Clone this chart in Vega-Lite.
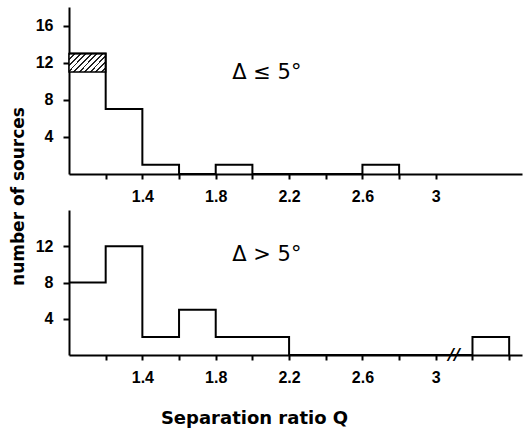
{
  "$schema": "https://vega.github.io/schema/vega-lite/v6.json",
  "background": "white",
  "padding": {"left": 9, "top": 7, "right": 2, "bottom": 2},
  "bounds": "flush",
  "spacing": 36,
  "datasets": {
    "top": [
      {"q": 1.0, "n": 13},
      {"q": 1.2, "n": 7},
      {"q": 1.4, "n": 1},
      {"q": 1.6, "n": 0},
      {"q": 1.8, "n": 1},
      {"q": 2.0, "n": 0},
      {"q": 2.6, "n": 1},
      {"q": 2.8, "n": 0}
    ],
    "hatch": [
      {"q0": 1.0, "q1": 1.2, "lo": 11, "hi": 13}
    ],
    "bottom": [
      {"q": 1.0, "n": 8},
      {"q": 1.2, "n": 12},
      {"q": 1.4, "n": 2},
      {"q": 1.6, "n": 5},
      {"q": 1.8, "n": 2},
      {"q": 2.2, "n": 0},
      {"q": 3.2, "n": 2},
      {"q": 3.4, "n": 0}
    ]
  },
  "vconcat": [
    {
      "width": 453,
      "height": 167,
      "layer": [
        {
          "data": {"name": "hatch"},
          "mark": {
            "type": "rect",
            "stroke": "black",
            "strokeWidth": 1.5,
            "fill": {
              "gradient": "linear",
              "x1": 0, "y1": 0, "x2": 1.2, "y2": 0.6,
              "stops": [
                {"offset": 0, "color": "#222"}, {"offset": 0.035, "color": "#222"}, {"offset": 0.035, "color": "white"}, {"offset": 0.1, "color": "white"},
                {"offset": 0.1, "color": "#222"}, {"offset": 0.135, "color": "#222"}, {"offset": 0.135, "color": "white"}, {"offset": 0.2, "color": "white"},
                {"offset": 0.2, "color": "#222"}, {"offset": 0.235, "color": "#222"}, {"offset": 0.235, "color": "white"}, {"offset": 0.3, "color": "white"},
                {"offset": 0.3, "color": "#222"}, {"offset": 0.335, "color": "#222"}, {"offset": 0.335, "color": "white"}, {"offset": 0.4, "color": "white"},
                {"offset": 0.4, "color": "#222"}, {"offset": 0.435, "color": "#222"}, {"offset": 0.435, "color": "white"}, {"offset": 0.5, "color": "white"},
                {"offset": 0.5, "color": "#222"}, {"offset": 0.535, "color": "#222"}, {"offset": 0.535, "color": "white"}, {"offset": 0.6, "color": "white"},
                {"offset": 0.6, "color": "#222"}, {"offset": 0.635, "color": "#222"}, {"offset": 0.635, "color": "white"}, {"offset": 0.7, "color": "white"},
                {"offset": 0.7, "color": "#222"}, {"offset": 0.735, "color": "#222"}, {"offset": 0.735, "color": "white"}, {"offset": 0.8, "color": "white"},
                {"offset": 0.8, "color": "#222"}, {"offset": 0.835, "color": "#222"}, {"offset": 0.835, "color": "white"}, {"offset": 0.9, "color": "white"},
                {"offset": 0.9, "color": "#222"}, {"offset": 0.935, "color": "#222"}, {"offset": 0.935, "color": "white"}, {"offset": 1, "color": "white"}
              ]
            }
          },
          "encoding": {
            "x": {
              "field": "q0", "type": "quantitative",
              "scale": {"domain": [1, 3.47], "nice": false, "zero": false},
              "axis": {
                "values": [1.2, 1.4, 1.6, 1.8, 2.0, 2.2, 2.4, 2.6, 2.8, 3.0],
                "labelExpr": "(round(datum.value*10)%4==2 && datum.value<3.05) ? (round(datum.value*10)==30 ? '3' : format(datum.value,'.1f')) : ''",
                "title": null
              }
            },
            "x2": {"field": "q1"},
            "y": {
              "field": "lo", "type": "quantitative",
              "scale": {"domain": [0, 18], "nice": false},
              "axis": {
                "values": [4, 8, 12, 16],
                "title": "number of sources",
                "titleX": -46,
                "titleY": 189,
                "titleAngle": -90,
                "titleAlign": "center",
                "titleBaseline": "alphabetic",
                "titleFontSize": 17
              }
            },
            "y2": {"field": "hi"}
          }
        },
        {
          "data": {"name": "top"},
          "mark": {"type": "line", "interpolate": "step-after", "color": "black", "strokeWidth": 2},
          "encoding": {
            "x": {"field": "q", "type": "quantitative"},
            "y": {"field": "n", "type": "quantitative"}
          }
        },
        {
          "data": {"values": [{}]},
          "mark": {"type": "text", "text": "Δ  ≤ 5°", "align": "left", "baseline": "middle", "font": "DejaVu Sans", "fontSize": 21, "color": "black"},
          "encoding": {
            "x": {"datum": 1.89, "type": "quantitative"},
            "y": {"datum": 10.9, "type": "quantitative"}
          }
        }
      ]
    },
    {
      "width": 453,
      "height": 145,
      "layer": [
        {
          "data": {"name": "bottom"},
          "mark": {"type": "line", "interpolate": "step-after", "color": "black", "strokeWidth": 2},
          "encoding": {
            "x": {
              "field": "q", "type": "quantitative",
              "scale": {"domain": [1, 3.47], "nice": false, "zero": false},
              "axis": {
                "values": [1.2, 1.4, 1.6, 1.8, 2.0, 2.2, 2.4, 2.6, 2.8, 3.0, 3.2, 3.4],
                "labelExpr": "(round(datum.value*10)%4==2 && datum.value<3.05) ? (round(datum.value*10)==30 ? '3' : format(datum.value,'.1f')) : ''",
                "title": "Separation ratio Q",
                "titleX": 185,
                "titleY": 68,
                "titleAlign": "center",
                "titleBaseline": "alphabetic",
                "titleFontSize": 18
              }
            },
            "y": {
              "field": "n", "type": "quantitative",
              "scale": {"domain": [0, 16], "nice": false},
              "axis": {"values": [4, 8, 12], "title": null}
            }
          }
        },
        {
          "data": {"values": [{}]},
          "mark": {"type": "text", "text": "Δ  > 5°", "align": "left", "baseline": "middle", "font": "DejaVu Sans", "fontSize": 21, "color": "black"},
          "encoding": {
            "x": {"datum": 1.89, "type": "quantitative"},
            "y": {"datum": 11.0, "type": "quantitative"}
          }
        },
        {
          "data": {"values": [{}]},
          "mark": {"type": "text", "text": "//", "align": "center", "baseline": "middle", "font": "DejaVu Sans", "fontWeight": "bold", "fontSize": 16, "fontStyle": "italic", "color": "black"},
          "encoding": {
            "x": {"datum": 3.1, "type": "quantitative"},
            "y": {"datum": 0, "type": "quantitative"}
          }
        }
      ]
    }
  ],
  "config": {
    "view": {"stroke": null},
    "axis": {
      "grid": false,
      "domainColor": "black",
      "domainWidth": 2,
      "tickColor": "black",
      "tickWidth": 2,
      "labelColor": "black",
      "labelFont": "Liberation Sans",
      "labelFontWeight": "bold",
      "labelFontSize": 16,
      "labelOverlap": false,
      "titleColor": "black",
      "titleFont": "DejaVu Sans",
      "titleFontWeight": "bold"
    },
    "axisX": {"tickSize": 5, "labelPadding": 9},
    "axisY": {"tickSize": 6, "labelPadding": 10}
  }
}
